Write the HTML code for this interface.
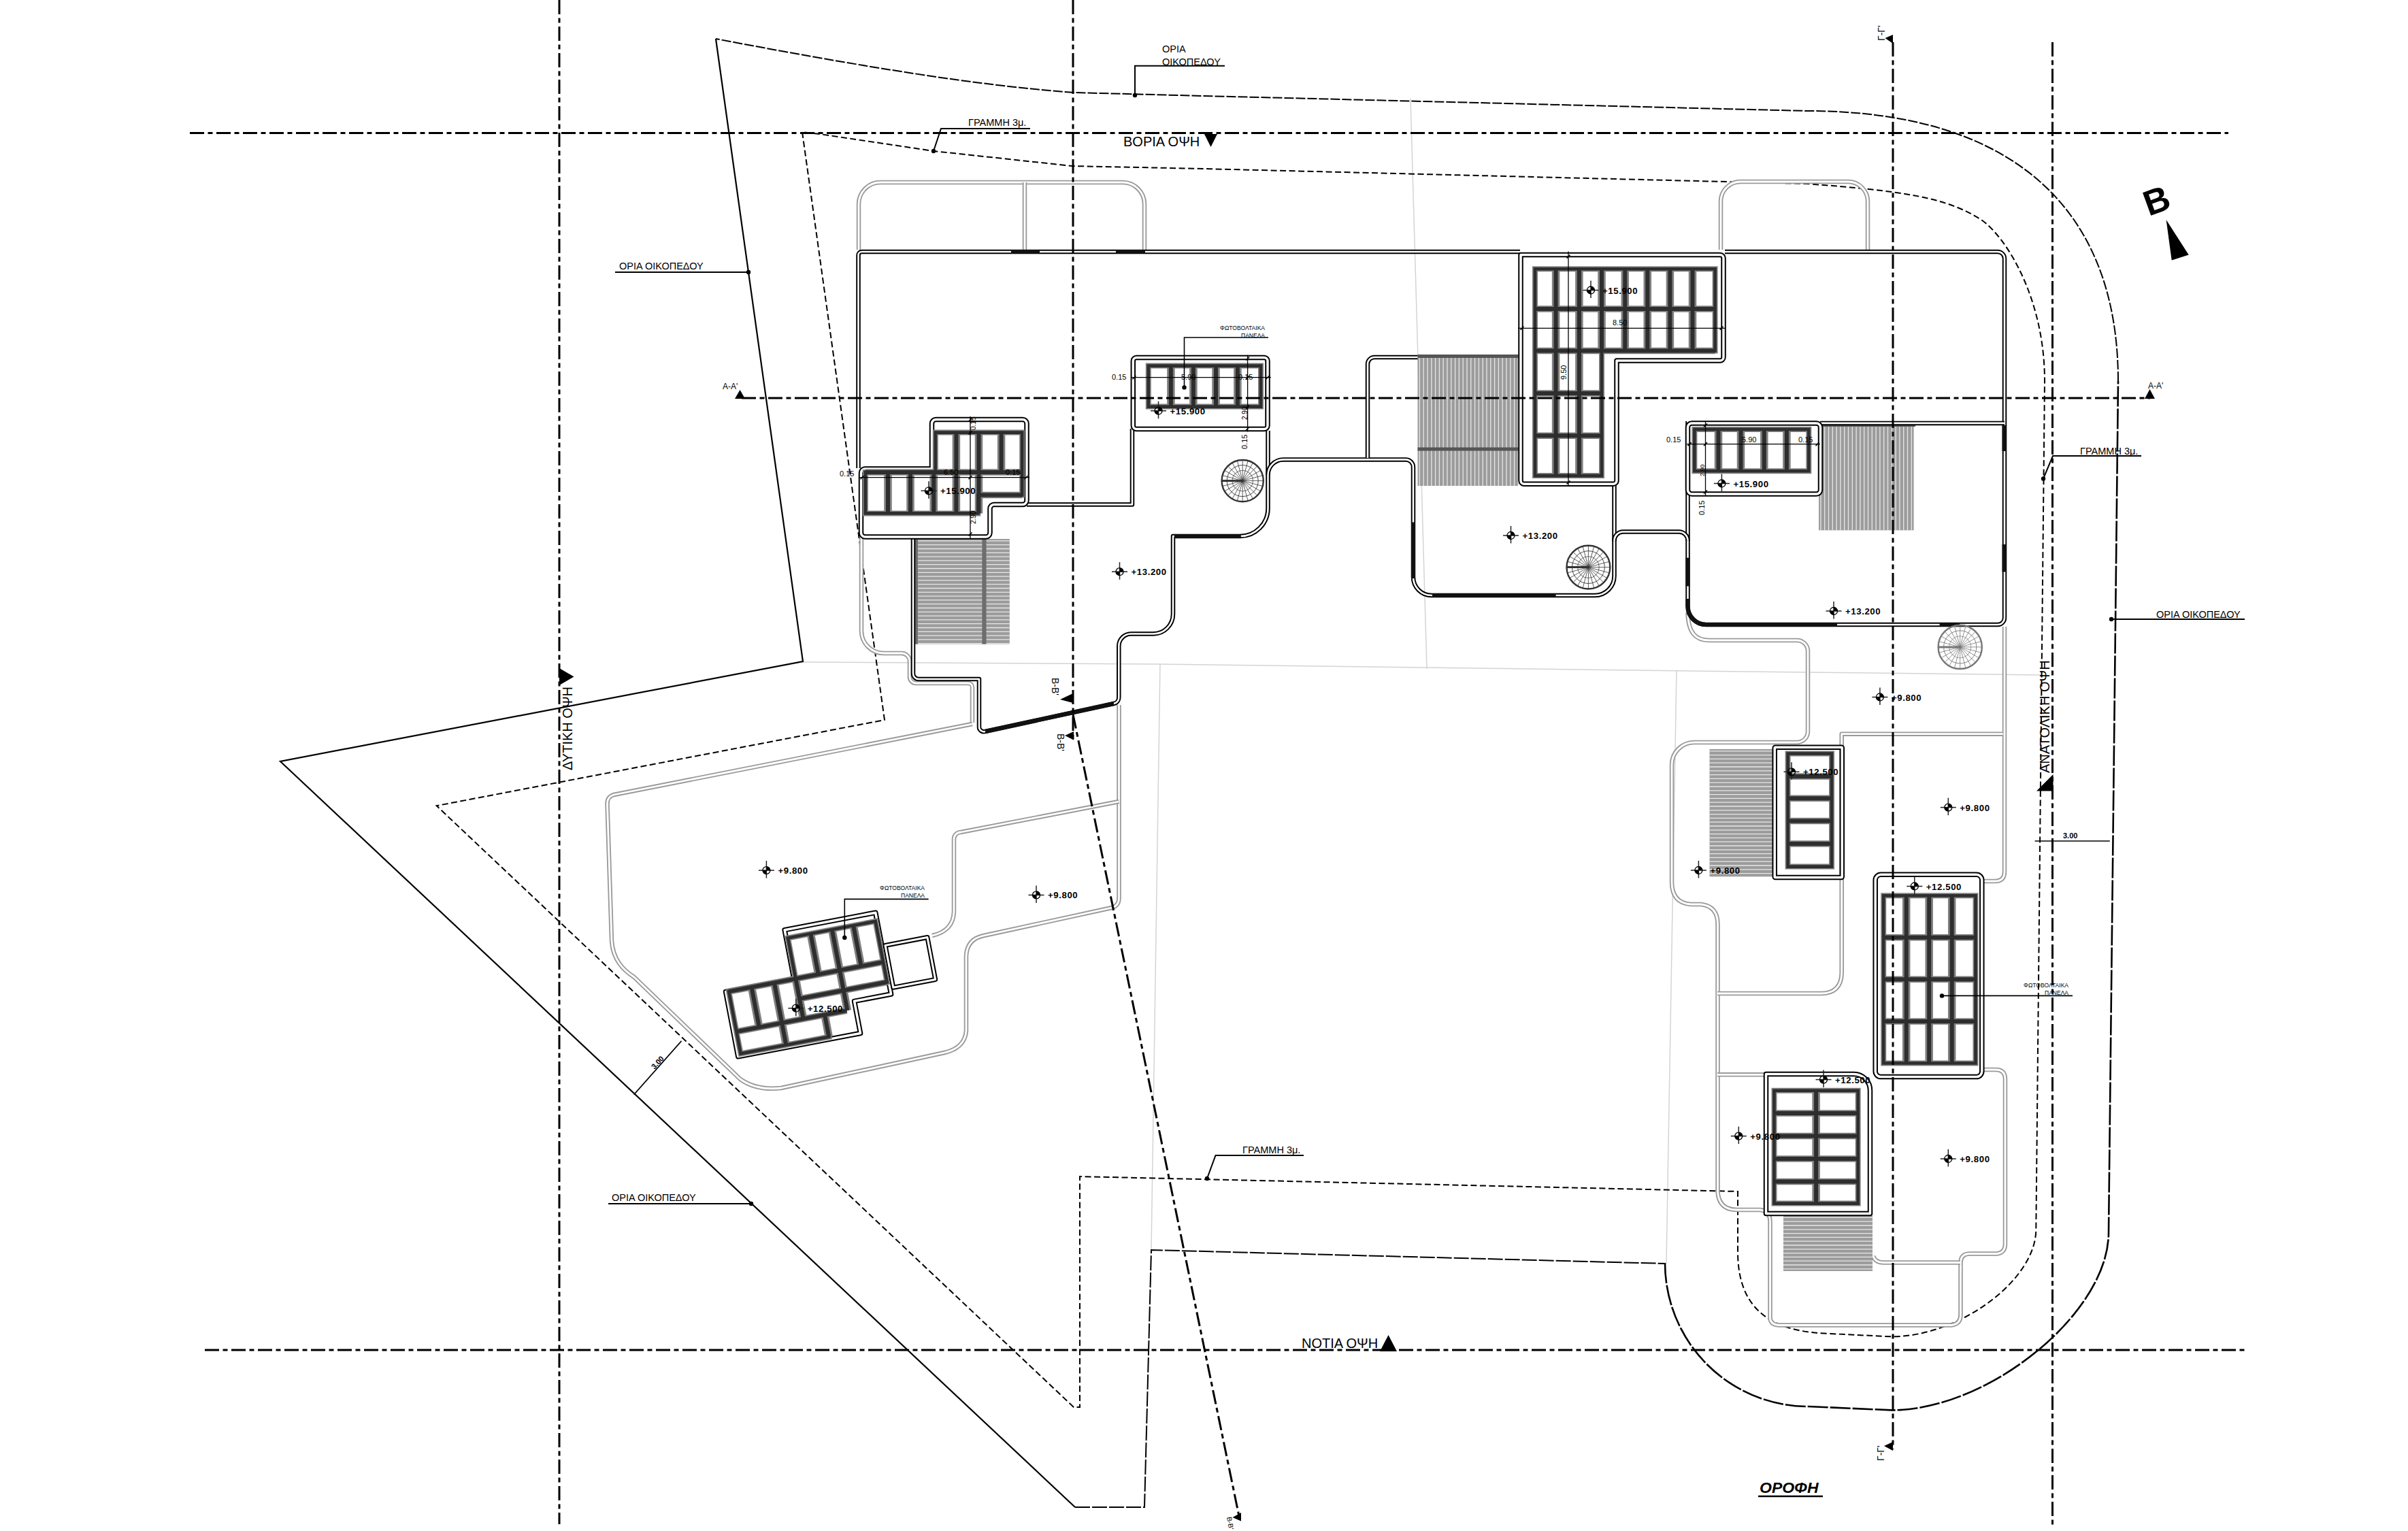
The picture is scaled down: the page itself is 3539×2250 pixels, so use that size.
<!DOCTYPE html><html><head><meta charset="utf-8"><style>html,body{margin:0;padding:0;background:#fff;width:3539px;height:2250px;overflow:hidden}svg{display:block;font-family:"Liberation Sans",sans-serif}</style></head><body><svg width="3539" height="2250" viewBox="0 0 3539 2250"><path d="M2073 145 L2097 983" stroke="#d4d4d4" stroke-width="1.5" fill="none"/>
<path d="M1180 973 L1700 976 L2400 985 L3000 992" stroke="#d4d4d4" stroke-width="1.5" fill="none"/>
<path d="M1705 976 L1692 1837" stroke="#d4d4d4" stroke-width="1.5" fill="none"/>
<path d="M2464 985 L2449 1857" stroke="#d4d4d4" stroke-width="1.5" fill="none"/>
<path d="M1052 57 L1180 972 L412 1119 L1580 2215" stroke="#000" stroke-width="2.2" fill="none" />
<path d="M1580 2215 H1682 L1692 1837 L2448 1857" stroke="#000" stroke-width="2" fill="none" stroke-dasharray="22 3"/>
<path d="M2447 1856 A211 211 0 0 0 2658 2067 L2780 2072.4 C2923.6 2072.4 3099 1929 3099 1811.7 L3113 560" stroke="#000" stroke-width="2.6" fill="none" stroke-dasharray="30 3"/>
<path d="M3113 560 C3113 302 2952.7 163 2655 163 L1770 141 L1578 136 C1470 128 1330 110 1052 57" stroke="#000" stroke-width="2" fill="none" stroke-dasharray="14 3"/>
<path d="M1179 194 L1300 1058 L641.6 1184.2 L1578 2068 L1587 2068 L1587 1729 L2554 1751 L2554 1840 C2554 1930 2610 1958 2690 1960 L2780 1964.4 C2880 1964.4 2992.3 1881 2992.3 1806.8 L3005 560 C3005 440 2950 350 2912 323 C2860 290 2800 281 2655 270 L1770 248 L1576 244 L1372 222 L1205 197 Z" stroke="#000" stroke-width="2" fill="none" stroke-dasharray="9 4.5"/>
<text x="910" y="396" font-size="14.5" font-weight="normal" font-style="normal" text-anchor="start" fill="#000" >ΟΡΙΑ ΟΙΚΟΠΕΔΟΥ</text>
<path d="M904 400 H1100" stroke="#000" stroke-width="2" fill="none" />
<circle cx="1100" cy="400" r="3.2" fill="#000"/>
<text x="1708" y="77" font-size="14.5" font-weight="normal" font-style="normal" text-anchor="start" fill="#000" >ΟΡΙΑ</text>
<text x="1708" y="96" font-size="14.5" font-weight="normal" font-style="normal" text-anchor="start" fill="#000" >ΟΙΚΟΠΕΔΟΥ</text>
<path d="M1668 140 V96.7 H1800" stroke="#000" stroke-width="2" fill="none" />
<circle cx="1668" cy="140" r="3.2" fill="#000"/>
<text x="1423" y="185" font-size="14.5" font-weight="normal" font-style="normal" text-anchor="start" fill="#000" >ΓΡΑΜΜΗ 3μ.</text>
<path d="M1372 222 L1383 189 H1514" stroke="#000" stroke-width="2" fill="none" />
<circle cx="1372" cy="222" r="3.2" fill="#000"/>
<text x="1651" y="215" font-size="20" font-weight="normal" font-style="normal" text-anchor="start" fill="#000" >ΒΟΡΙΑ ΟΨΗ</text>
<polygon points="1770,197 1789,197 1779.5,216" fill="#000"/>
<text x="3169" y="908" font-size="14.5" font-weight="normal" font-style="normal" text-anchor="start" fill="#000" >ΟΡΙΑ ΟΙΚΟΠΕΔΟΥ</text>
<path d="M3103 910 H3299" stroke="#000" stroke-width="2" fill="none" />
<circle cx="3103" cy="910" r="3.2" fill="#000"/>
<text x="3057" y="668" font-size="14.5" font-weight="normal" font-style="normal" text-anchor="start" fill="#000" >ΓΡΑΜΜΗ 3μ.</text>
<path d="M3003 703.5 L3017 670 H3147" stroke="#000" stroke-width="2" fill="none" />
<circle cx="3003" cy="703.5" r="3.2" fill="#000"/>
<text x="899" y="1765" font-size="14.5" font-weight="normal" font-style="normal" text-anchor="start" fill="#000" >ΟΡΙΑ ΟΙΚΟΠΕΔΟΥ</text>
<path d="M894 1769 H1104" stroke="#000" stroke-width="2" fill="none" />
<circle cx="1104" cy="1769" r="3.2" fill="#000"/>
<text x="1826" y="1695" font-size="14.5" font-weight="normal" font-style="normal" text-anchor="start" fill="#000" >ΓΡΑΜΜΗ 3μ.</text>
<path d="M1774 1732 L1786.5 1698 H1916" stroke="#000" stroke-width="2" fill="none" />
<circle cx="1774" cy="1732" r="3.2" fill="#000"/>
<text x="1913" y="1981" font-size="20" font-weight="normal" font-style="normal" text-anchor="start" fill="#000" >ΝΟΤΙΑ ΟΨΗ</text>
<polygon points="2040.5,1962 2053,1986 2028,1986" fill="#000"/>
<text x="0" y="0" font-size="20" transform="translate(841,1132) rotate(-90)">ΔΥΤΙΚΗ ΟΨΗ</text>
<polygon points="822,982 843.5,994.5 822,1007" fill="#000"/>
<text x="0" y="0" font-size="20" transform="translate(3012,1136) rotate(-90)">ΑΝΑΤΟΛΙΚΗ ΟΨΗ</text>
<polygon points="3017.5,1138 3017.5,1162.5 2993,1162.5" fill="#000"/>
<text x="2586" y="2194" font-size="23" font-weight="bold" font-style="italic" text-anchor="start" fill="#000" >ΟΡΟΦΗ</text>
<path d="M2584 2199 H2679" stroke="#000" stroke-width="2.5" fill="none" />
<text x="1062" y="572" font-size="12" font-weight="normal" font-style="normal" text-anchor="start" fill="#000" >A-A'</text>
<polygon points="1087.5,573 1095,586 1080,586" fill="#000"/>
<text x="3157" y="571" font-size="12" font-weight="normal" font-style="normal" text-anchor="start" fill="#000" >A-A'</text>
<polygon points="3159.5,572 3167,586 3152,586" fill="#000"/>
<polygon points="2770.5,56 2782,51 2782,64" fill="#000"/>
<text font-size="14" transform="translate(2770,60) rotate(-90)">Γ-Γ'</text>
<polygon points="2769,2125 2782,2119 2782,2132" fill="#000"/>
<text font-size="14" transform="translate(2769,2147) rotate(-90)">Γ-Γ'</text>
<polygon points="1558,1028 1577,1019 1577,1033" fill="#000"/>
<text font-size="14" transform="translate(1546,996) rotate(90)">B-B'</text>
<polygon points="1565,1081 1578,1075 1578,1087.5" fill="#000"/>
<text font-size="14" transform="translate(1554,1078) rotate(90)">B-B'</text>
<polygon points="1811.5,2230 1824,2223 1824,2235.5" fill="#000"/>
<text font-size="10" transform="translate(1803,2230) rotate(80)">B-B'</text>
<text font-size="52" font-weight="bold" transform="translate(3158,318) rotate(-20)">B</text>
<polygon points="3183.6,323 3216.7,374.5 3191.7,382.5" fill="#000"/>
<path d="M2990.6 1236 H3100.8" stroke="#000" stroke-width="1.6" fill="none" />
<text x="3032" y="1232" font-size="11" font-weight="bold" font-style="normal" text-anchor="start" fill="#000" >3.00</text>
<path d="M931.7 1608.6 L1001.5 1529.9" stroke="#000" stroke-width="1.6" fill="none" />
<text font-size="11" font-weight="bold" transform="translate(962,1572) rotate(-48)">3.00</text>
<path d="M1262 367 V300 A32 32 0 0 1 1294 268 H1650 A32 32 0 0 1 1682 300 V367" stroke="#9a9a9a" stroke-width="6.5" fill="none" stroke-linejoin="round"/>
<path d="M1262 367 V300 A32 32 0 0 1 1294 268 H1650 A32 32 0 0 1 1682 300 V367" stroke="#fff" stroke-width="2.8" fill="none" stroke-linejoin="round"/>
<path d="M1506 268 V367" stroke="#9a9a9a" stroke-width="6.5" fill="none" stroke-linejoin="round"/>
<path d="M1506 268 V367" stroke="#fff" stroke-width="2.8" fill="none" stroke-linejoin="round"/>
<path d="M2529 367 V296 A29 29 0 0 1 2558 267 H2716 A29 29 0 0 1 2745 296 V367" stroke="#9a9a9a" stroke-width="6.5" fill="none" stroke-linejoin="round"/>
<path d="M2529 367 V296 A29 29 0 0 1 2558 267 H2716 A29 29 0 0 1 2745 296 V367" stroke="#fff" stroke-width="2.8" fill="none" stroke-linejoin="round"/>
<path d="M1266 791 V927 A33 33 0 0 0 1299 960 H1325 A12 12 0 0 1 1337 972 V995 A9 9 0 0 0 1346 1004 H1423 A6 6 0 0 1 1429 1010 V1062" stroke="#9a9a9a" stroke-width="6.5" fill="none" stroke-linejoin="round"/>
<path d="M1266 791 V927 A33 33 0 0 0 1299 960 H1325 A12 12 0 0 1 1337 972 V995 A9 9 0 0 0 1346 1004 H1423 A6 6 0 0 1 1429 1010 V1062" stroke="#fff" stroke-width="2.8" fill="none" stroke-linejoin="round"/>
<path d="M1429 1064 L902 1168 Q892 1171 892.5 1182 L899 1383 C901 1410 915 1425 932 1436 L1088 1586 Q1112 1603 1148 1599 L1388 1547 Q1418 1540 1420 1515 V1405 Q1421 1380 1446 1375 L1634 1334 Q1644.5 1331 1644.5 1320 V1036" stroke="#9a9a9a" stroke-width="6.5" fill="none" stroke-linejoin="round"/>
<path d="M1429 1064 L902 1168 Q892 1171 892.5 1182 L899 1383 C901 1410 915 1425 932 1436 L1088 1586 Q1112 1603 1148 1599 L1388 1547 Q1418 1540 1420 1515 V1405 Q1421 1380 1446 1375 L1634 1334 Q1644.5 1331 1644.5 1320 V1036" stroke="#fff" stroke-width="2.8" fill="none" stroke-linejoin="round"/>
<path d="M1644.5 1178 L1412 1223 A10 10 0 0 0 1402 1233 V1340 Q1401 1368 1370 1375" stroke="#9a9a9a" stroke-width="6.5" fill="none" stroke-linejoin="round"/>
<path d="M1644.5 1178 L1412 1223 A10 10 0 0 0 1402 1233 V1340 Q1401 1368 1370 1375" stroke="#fff" stroke-width="2.8" fill="none" stroke-linejoin="round"/>
<path d="M2480.5 900 C2481 930 2492 941 2512 941 H2641 A16 16 0 0 1 2657 956 V1075 A16 16 0 0 1 2641 1091 H2490 A33 33 0 0 0 2457 1124 V1296 Q2457 1327 2485 1329 H2500 Q2524.5 1332 2524.5 1358 V1751 Q2526 1778 2553 1778 H2587 Q2601.5 1780 2601.5 1795 V1938 Q2603 1947.5 2616 1947.5 H2868 Q2881.5 1946 2881.5 1932 V1855 Q2882 1842.5 2895 1842.5 H2935 Q2947 1841 2947 1828 V1586 Q2947 1572 2933 1572 H2914" stroke="#9a9a9a" stroke-width="6.5" fill="none" stroke-linejoin="round"/>
<path d="M2480.5 900 C2481 930 2492 941 2512 941 H2641 A16 16 0 0 1 2657 956 V1075 A16 16 0 0 1 2641 1091 H2490 A33 33 0 0 0 2457 1124 V1296 Q2457 1327 2485 1329 H2500 Q2524.5 1332 2524.5 1358 V1751 Q2526 1778 2553 1778 H2587 Q2601.5 1780 2601.5 1795 V1938 Q2603 1947.5 2616 1947.5 H2868 Q2881.5 1946 2881.5 1932 V1855 Q2882 1842.5 2895 1842.5 H2935 Q2947 1841 2947 1828 V1586 Q2947 1572 2933 1572 H2914" stroke="#fff" stroke-width="2.8" fill="none" stroke-linejoin="round"/>
<path d="M2946 921 V1281 Q2946 1295 2932 1295 H2914" stroke="#9a9a9a" stroke-width="6.5" fill="none" stroke-linejoin="round"/>
<path d="M2946 921 V1281 Q2946 1295 2932 1295 H2914" stroke="#fff" stroke-width="2.8" fill="none" stroke-linejoin="round"/>
<path d="M2943.7 1078.7 H2706.7 V1430 Q2706 1460 2676 1460 H2524" stroke="#9a9a9a" stroke-width="6.5" fill="none" stroke-linejoin="round"/>
<path d="M2943.7 1078.7 H2706.7 V1430 Q2706 1460 2676 1460 H2524" stroke="#fff" stroke-width="2.8" fill="none" stroke-linejoin="round"/>
<path d="M2524 1579.3 H2594" stroke="#9a9a9a" stroke-width="6.5" fill="none" stroke-linejoin="round"/>
<path d="M2524 1579.3 H2594" stroke="#fff" stroke-width="2.8" fill="none" stroke-linejoin="round"/>
<path d="M2753 1846 Q2756 1855.5 2768 1855.5 H2881" stroke="#9a9a9a" stroke-width="6.5" fill="none" stroke-linejoin="round"/>
<path d="M2753 1846 Q2756 1855.5 2768 1855.5 H2881" stroke="#fff" stroke-width="2.8" fill="none" stroke-linejoin="round"/>
<rect x="1340.5" y="792" width="143.3" height="154.6" fill="#9c9c9c"/>
<path d="M1340.5 794.9H1483.8M1340.5 800.7H1483.8M1340.5 806.5H1483.8M1340.5 812.3H1483.8M1340.5 818.1H1483.8M1340.5 823.9H1483.8M1340.5 829.7H1483.8M1340.5 835.5H1483.8M1340.5 841.3H1483.8M1340.5 847.1H1483.8M1340.5 852.9H1483.8M1340.5 858.7H1483.8M1340.5 864.5H1483.8M1340.5 870.3H1483.8M1340.5 876.1H1483.8M1340.5 881.9H1483.8M1340.5 887.7H1483.8M1340.5 893.5H1483.8M1340.5 899.3H1483.8M1340.5 905.1H1483.8M1340.5 910.9H1483.8M1340.5 916.7H1483.8M1340.5 922.5H1483.8M1340.5 928.3H1483.8M1340.5 934.1H1483.8M1340.5 939.9H1483.8M1340.5 945.7H1483.8" stroke="#e6e6e6" stroke-width="1.3" fill="none"/>
<rect x="1343" y="792" width="6" height="154.6" fill="#6e6e6e"/>
<rect x="1443.4" y="792" width="6.1" height="154.6" fill="#6d6d6d"/>
<rect x="2083.5" y="523" width="148" height="191" fill="#9c9c9c"/>
<path d="M2086.4 523V714M2092.2 523V714M2098.0 523V714M2103.8 523V714M2109.6 523V714M2115.4 523V714M2121.2 523V714M2127.0 523V714M2132.8 523V714M2138.6 523V714M2144.4 523V714M2150.2 523V714M2156.0 523V714M2161.8 523V714M2167.6 523V714M2173.4 523V714M2179.2 523V714M2185.0 523V714M2190.8 523V714M2196.6 523V714M2202.4 523V714M2208.2 523V714M2214.0 523V714M2219.8 523V714M2225.6 523V714M2231.4 523V714" stroke="#e6e6e6" stroke-width="1.3" fill="none"/>
<rect x="2083.5" y="657.5" width="148" height="5" fill="#555"/>
<rect x="2083.5" y="521" width="148" height="5" fill="#555"/>
<rect x="2673" y="626" width="139.6" height="153.3" fill="#9c9c9c"/>
<path d="M2675.9 626V779.3M2681.7 626V779.3M2687.5 626V779.3M2693.3 626V779.3M2699.1 626V779.3M2704.9 626V779.3M2710.7 626V779.3M2716.5 626V779.3M2722.3 626V779.3M2728.1 626V779.3M2733.9 626V779.3M2739.7 626V779.3M2745.5 626V779.3M2751.3 626V779.3M2757.1 626V779.3M2762.9 626V779.3M2768.7 626V779.3M2774.5 626V779.3M2780.3 626V779.3M2786.1 626V779.3M2791.9 626V779.3M2797.7 626V779.3M2803.5 626V779.3M2809.3 626V779.3" stroke="#e6e6e6" stroke-width="1.3" fill="none"/>
<rect x="2673" y="622" width="142" height="5" fill="#555"/>
<rect x="2512.5" y="1100.9" width="92.5" height="187.4" fill="#9c9c9c"/>
<path d="M2512.5 1103.8H2605.0M2512.5 1109.6H2605.0M2512.5 1115.4H2605.0M2512.5 1121.2H2605.0M2512.5 1127.0H2605.0M2512.5 1132.8H2605.0M2512.5 1138.6H2605.0M2512.5 1144.4H2605.0M2512.5 1150.2H2605.0M2512.5 1156.0H2605.0M2512.5 1161.8H2605.0M2512.5 1167.6H2605.0M2512.5 1173.4H2605.0M2512.5 1179.2H2605.0M2512.5 1185.0H2605.0M2512.5 1190.8H2605.0M2512.5 1196.6H2605.0M2512.5 1202.4H2605.0M2512.5 1208.2H2605.0M2512.5 1214.0H2605.0M2512.5 1219.8H2605.0M2512.5 1225.6H2605.0M2512.5 1231.4H2605.0M2512.5 1237.2H2605.0M2512.5 1243.0H2605.0M2512.5 1248.8H2605.0M2512.5 1254.6H2605.0M2512.5 1260.4H2605.0M2512.5 1266.2H2605.0M2512.5 1272.0H2605.0M2512.5 1277.8H2605.0M2512.5 1283.6H2605.0" stroke="#e6e6e6" stroke-width="1.3" fill="none"/>
<rect x="2621" y="1786.5" width="131" height="81.5" fill="#9c9c9c"/>
<path d="M2621 1789.4H2752M2621 1795.2H2752M2621 1801.0H2752M2621 1806.8H2752M2621 1812.6H2752M2621 1818.4H2752M2621 1824.2H2752M2621 1830.0H2752M2621 1835.8H2752M2621 1841.6H2752M2621 1847.4H2752M2621 1853.2H2752M2621 1859.0H2752M2621 1864.8H2752" stroke="#e6e6e6" stroke-width="1.3" fill="none"/>
<path d="M1261.5 688 V375 A5 5 0 0 1 1266.5 370 H2234 M2535 370 H2936 A10 10 0 0 1 2946 380 V908 A10 10 0 0 1 2936 918 H2507.5 A27 27 0 0 1 2480.5 891 V619" stroke="#000" stroke-width="6.5" fill="none" stroke-linejoin="round"/>
<path d="M1261.5 688 V375 A5 5 0 0 1 1266.5 370 H2234 M2535 370 H2936 A10 10 0 0 1 2946 380 V908 A10 10 0 0 1 2936 918 H2507.5 A27 27 0 0 1 2480.5 891 V619" stroke="#fff" stroke-width="2.6" fill="none" stroke-linejoin="round"/>
<path d="M1509 741.5 H1664 V630" stroke="#000" stroke-width="6.5" fill="none" stroke-linejoin="round"/>
<path d="M1509 741.5 H1664 V630" stroke="#fff" stroke-width="2.6" fill="none" stroke-linejoin="round"/>
<path d="M1863.5 633 V747 A41 41 0 0 1 1822.5 788 H1724 V902.5 A29 29 0 0 1 1695 931.5 H1662 A18 18 0 0 0 1644.3 949.5 V1025 A9 9 0 0 1 1637 1034 L1448 1075 A7 7 0 0 1 1439 1068 V998 H1350 A8 8 0 0 1 1342 990 V789" stroke="#000" stroke-width="6.5" fill="none" stroke-linejoin="round"/>
<path d="M1863.5 633 V747 A41 41 0 0 1 1822.5 788 H1724 V902.5 A29 29 0 0 1 1695 931.5 H1662 A18 18 0 0 0 1644.3 949.5 V1025 A9 9 0 0 1 1637 1034 L1448 1075 A7 7 0 0 1 1439 1068 V998 H1350 A8 8 0 0 1 1342 990 V789" stroke="#fff" stroke-width="2.6" fill="none" stroke-linejoin="round"/>
<path d="M1863.5 698 A22.6 22.6 0 0 1 1886 675.4 H2066 A11 11 0 0 1 2077 686.4 V848 A27 27 0 0 0 2104 875 H2344 A28.5 28.5 0 0 0 2372.5 846.5 V712" stroke="#000" stroke-width="6.5" fill="none" stroke-linejoin="round"/>
<path d="M1863.5 698 A22.6 22.6 0 0 1 1886 675.4 H2066 A11 11 0 0 1 2077 686.4 V848 A27 27 0 0 0 2104 875 H2344 A28.5 28.5 0 0 0 2372.5 846.5 V712" stroke="#fff" stroke-width="2.6" fill="none" stroke-linejoin="round"/>
<path d="M2675 621.9 H2946" stroke="#000" stroke-width="6.5" fill="none" stroke-linejoin="round"/>
<path d="M2675 621.9 H2946" stroke="#fff" stroke-width="2.6" fill="none" stroke-linejoin="round"/>
<path d="M2010 673 V535 A10 10 0 0 1 2020 525 H2083.5" stroke="#000" stroke-width="6.5" fill="none" stroke-linejoin="round"/>
<path d="M2010 673 V535 A10 10 0 0 1 2020 525 H2083.5" stroke="#fff" stroke-width="2.6" fill="none" stroke-linejoin="round"/>
<path d="M2372.5 795 A13 13 0 0 1 2385.5 781.5 H2467.5 A13 13 0 0 1 2480.5 794.5" stroke="#000" stroke-width="6.5" fill="none" stroke-linejoin="round"/>
<path d="M2372.5 795 A13 13 0 0 1 2385.5 781.5 H2467.5 A13 13 0 0 1 2480.5 794.5" stroke="#fff" stroke-width="2.6" fill="none" stroke-linejoin="round"/>
<path d="M1486 370 H1528 M1640 370 H1683 M2077 768 V850 M1725.8 788 H1823.8 M1448 1075 L1637 1034 M2105 875 H2286.6 M2077 767.4 V809 M2945.5 625 V663 M2945.5 800 V840.5 M2480.5 819.7 V861.4 M2480.5 880 V891 A27 27 0 0 0 2507.5 918 H2700 M2850.6 918 H2880" stroke="#111" stroke-width="6" fill="none"/>
<path d="M1271.5 689 H1369.5 V622.5 A6 6 0 0 1 1375.5 616.5 H1503 A6 6 0 0 1 1509 622.5 V735.5 A6 6 0 0 1 1503 741.5 H1461 A6 6 0 0 0 1455 747.5 V783 A6 6 0 0 1 1449 789 H1271.5 A6 6 0 0 1 1265.5 783 V695 A6 6 0 0 1 1271.5 689 Z" stroke="#000" stroke-width="7.5" fill="none" stroke-linejoin="round"/>
<path d="M1271.5 689 H1369.5 V622.5 A6 6 0 0 1 1375.5 616.5 H1503 A6 6 0 0 1 1509 622.5 V735.5 A6 6 0 0 1 1503 741.5 H1461 A6 6 0 0 0 1455 747.5 V783 A6 6 0 0 1 1449 789 H1271.5 A6 6 0 0 1 1265.5 783 V695 A6 6 0 0 1 1271.5 689 Z" stroke="#fff" stroke-width="3.5" fill="none" stroke-linejoin="round"/>
<path d="M1405.4 635.6V754.4M1438.5 635.6V754.4M1471.6 635.6V694M1305 694V754.4M1338 694V754.4M1372.3 694V754.4" stroke="#808080" stroke-width="11.5" fill="none"/>
<path d="M1374.8 694H1502.2M1271.9 694H1374.8M1437.3 727.5H1502.2" stroke="#808080" stroke-width="9.5" fill="none"/>
<path d="M1374.8 694V635.6H1502.2V727.5M1437.3 727.5V754.4H1271.9V694" stroke="#808080" stroke-width="8" fill="none" stroke-linecap="square"/>
<path d="M1405.4 635.6V754.4M1438.5 635.6V754.4M1471.6 635.6V694M1305 694V754.4M1338 694V754.4M1372.3 694V754.4" stroke="#2e2e2e" stroke-width="6" fill="none"/>
<path d="M1374.8 694H1502.2M1271.9 694H1374.8M1437.3 727.5H1502.2" stroke="#2e2e2e" stroke-width="6" fill="none"/>
<path d="M1374.8 694V635.6H1502.2V727.5M1437.3 727.5V754.4H1271.9V694" stroke="#2e2e2e" stroke-width="4.6" fill="none" stroke-linecap="square"/>
<path d="M1670.3 525.4H1858A5 5 0 0 1 1863 530.4V625.6A5 5 0 0 1 1858 630.6H1670.3A5 5 0 0 1 1665.3 625.6V530.4A5 5 0 0 1 1670.3 525.4Z" stroke="#000" stroke-width="7.5" fill="none" stroke-linejoin="round"/>
<path d="M1670.3 525.4H1858A5 5 0 0 1 1863 530.4V625.6A5 5 0 0 1 1858 630.6H1670.3A5 5 0 0 1 1665.3 625.6V530.4A5 5 0 0 1 1670.3 525.4Z" stroke="#fff" stroke-width="3.5" fill="none" stroke-linejoin="round"/>
<path d="M1720.9 537.6V597.6M1753.9 537.6V597.6M1787 537.6V597.6M1818.9 537.6V597.6" stroke="#808080" stroke-width="11.5" fill="none"/>
<path d="M1687.8 537.6H1853V597.6H1687.8Z" stroke="#808080" stroke-width="8" fill="none" stroke-linecap="square"/>
<path d="M1720.9 537.6V597.6M1753.9 537.6V597.6M1787 537.6V597.6M1818.9 537.6V597.6" stroke="#2e2e2e" stroke-width="6" fill="none"/>
<path d="M1687.8 537.6H1853V597.6H1687.8Z" stroke="#2e2e2e" stroke-width="4.6" fill="none" stroke-linecap="square"/>
<path d="M2235 374.5 H2528 A5 5 0 0 1 2533 379.5 V525 A5 5 0 0 1 2528 530 H2376 V706 A5 5 0 0 1 2371 711.3 H2240 A5 5 0 0 1 2235 706.3 Z" stroke="#000" stroke-width="7.5" fill="none" stroke-linejoin="round"/>
<path d="M2235 374.5 H2528 A5 5 0 0 1 2533 379.5 V525 A5 5 0 0 1 2528 530 H2376 V706 A5 5 0 0 1 2371 711.3 H2240 A5 5 0 0 1 2235 706.3 Z" stroke="#fff" stroke-width="3.5" fill="none" stroke-linejoin="round"/>
<path d="M2354 395.3V515.4M2286.6 395.3V699.1M2320.9 395.3V699.1M2388.3 395.3V515.4M2421.3 395.3V515.4M2454.4 395.3V515.4M2487.5 395.3V515.4" stroke="#808080" stroke-width="11.5" fill="none"/>
<path d="M2256 454.1H2520.6M2354 515.4H2520.6M2256 515.4H2354M2256 577.9H2354M2256 640.3H2354" stroke="#808080" stroke-width="9.5" fill="none"/>
<path d="M2256 699.1V395.3H2520.6V515.4H2354V699.1Z" stroke="#808080" stroke-width="8" fill="none" stroke-linecap="square"/>
<path d="M2354 395.3V515.4M2286.6 395.3V699.1M2320.9 395.3V699.1M2388.3 395.3V515.4M2421.3 395.3V515.4M2454.4 395.3V515.4M2487.5 395.3V515.4" stroke="#2e2e2e" stroke-width="6" fill="none"/>
<path d="M2256 454.1H2520.6M2354 515.4H2520.6M2256 515.4H2354M2256 577.9H2354M2256 640.3H2354" stroke="#2e2e2e" stroke-width="6" fill="none"/>
<path d="M2256 699.1V395.3H2520.6V515.4H2354V699.1Z" stroke="#2e2e2e" stroke-width="4.6" fill="none" stroke-linecap="square"/>
<path d="M2486.5 621.9H2669.5A6 6 0 0 1 2675.5 627.9V720A6 6 0 0 1 2669.5 726H2486.5A6 6 0 0 1 2480.5 720V627.9A6 6 0 0 1 2486.5 621.9Z" stroke="#000" stroke-width="7.5" fill="none" stroke-linejoin="round"/>
<path d="M2486.5 621.9H2669.5A6 6 0 0 1 2675.5 627.9V720A6 6 0 0 1 2669.5 726H2486.5A6 6 0 0 1 2480.5 720V627.9A6 6 0 0 1 2486.5 621.9Z" stroke="#fff" stroke-width="3.5" fill="none" stroke-linejoin="round"/>
<path d="M2525.5 631V692.3M2558.5 631V692.3M2592.8 631V692.3M2625.9 631V692.3" stroke="#808080" stroke-width="11.5" fill="none"/>
<path d="M2490.4 631H2658.3V692.3H2490.4Z" stroke="#808080" stroke-width="8" fill="none" stroke-linecap="square"/>
<path d="M2525.5 631V692.3M2558.5 631V692.3M2592.8 631V692.3M2625.9 631V692.3" stroke="#2e2e2e" stroke-width="6" fill="none"/>
<path d="M2490.4 631H2658.3V692.3H2490.4Z" stroke="#2e2e2e" stroke-width="4.6" fill="none" stroke-linecap="square"/>
<path d="M2609.2 1098.2H2706.3A1 1 0 0 1 2707.3 1099.2V1288.6A1 1 0 0 1 2706.3 1289.6H2609.2A1 1 0 0 1 2608.2 1288.6V1099.2A1 1 0 0 1 2609.2 1098.2Z" stroke="#000" stroke-width="7.5" fill="none" stroke-linejoin="round"/>
<path d="M2609.2 1098.2H2706.3A1 1 0 0 1 2707.3 1099.2V1288.6A1 1 0 0 1 2706.3 1289.6H2609.2A1 1 0 0 1 2608.2 1288.6V1099.2A1 1 0 0 1 2609.2 1098.2Z" stroke="#fff" stroke-width="3.5" fill="none" stroke-linejoin="round"/>
<path d="M2627.6 1141H2692M2627.6 1173.2H2692M2627.6 1206.6H2692M2627.6 1240H2692" stroke="#808080" stroke-width="9.5" fill="none"/>
<path d="M2627.6 1107.5H2692V1273.6H2627.6Z" stroke="#808080" stroke-width="8" fill="none" stroke-linecap="square"/>
<path d="M2627.6 1141H2692M2627.6 1173.2H2692M2627.6 1206.6H2692M2627.6 1240H2692" stroke="#2e2e2e" stroke-width="6" fill="none"/>
<path d="M2627.6 1107.5H2692V1273.6H2627.6Z" stroke="#2e2e2e" stroke-width="4.6" fill="none" stroke-linecap="square"/>
<path d="M2764.2 1285.3H2904.8A8 8 0 0 1 2912.8 1293.3V1574.6A8 8 0 0 1 2904.8 1582.6H2764.2A8 8 0 0 1 2756.2 1574.6V1293.3A8 8 0 0 1 2764.2 1285.3Z" stroke="#000" stroke-width="7.5" fill="none" stroke-linejoin="round"/>
<path d="M2764.2 1285.3H2904.8A8 8 0 0 1 2912.8 1293.3V1574.6A8 8 0 0 1 2904.8 1582.6H2764.2A8 8 0 0 1 2756.2 1574.6V1293.3A8 8 0 0 1 2764.2 1285.3Z" stroke="#fff" stroke-width="3.5" fill="none" stroke-linejoin="round"/>
<path d="M2801.7 1316.2V1562.5M2835.2 1316.2V1562.5M2868.7 1316.2V1562.5" stroke="#808080" stroke-width="11.5" fill="none"/>
<path d="M2768.2 1377.7H2903.5M2768.2 1439.3H2903.5M2768.2 1501H2903.5" stroke="#808080" stroke-width="9.5" fill="none"/>
<path d="M2768.2 1316.2H2903.5V1562.5H2768.2Z" stroke="#808080" stroke-width="8" fill="none" stroke-linecap="square"/>
<path d="M2801.7 1316.2V1562.5M2835.2 1316.2V1562.5M2868.7 1316.2V1562.5" stroke="#2e2e2e" stroke-width="6" fill="none"/>
<path d="M2768.2 1377.7H2903.5M2768.2 1439.3H2903.5M2768.2 1501H2903.5" stroke="#2e2e2e" stroke-width="6" fill="none"/>
<path d="M2768.2 1316.2H2903.5V1562.5H2768.2Z" stroke="#2e2e2e" stroke-width="4.6" fill="none" stroke-linecap="square"/>
<path d="M2595.5 1578.5 H2724 A24 24 0 0 1 2748.5 1603 V1783.5 H2595.5 Z" stroke="#000" stroke-width="7.5" fill="none" stroke-linejoin="round"/>
<path d="M2595.5 1578.5 H2724 A24 24 0 0 1 2748.5 1603 V1783.5 H2595.5 Z" stroke="#fff" stroke-width="3.5" fill="none" stroke-linejoin="round"/>
<path d="M2669.1 1602.7V1768.6" stroke="#808080" stroke-width="11.5" fill="none"/>
<path d="M2607.5 1636H2730.7M2607.5 1669.5H2730.7M2607.5 1703H2730.7M2607.5 1736.5H2730.7" stroke="#808080" stroke-width="9.5" fill="none"/>
<path d="M2607.5 1602.7H2730.7V1768.6H2607.5Z" stroke="#808080" stroke-width="8" fill="none" stroke-linecap="square"/>
<path d="M2669.1 1602.7V1768.6" stroke="#2e2e2e" stroke-width="6" fill="none"/>
<path d="M2607.5 1636H2730.7M2607.5 1669.5H2730.7M2607.5 1703H2730.7M2607.5 1736.5H2730.7" stroke="#2e2e2e" stroke-width="6" fill="none"/>
<path d="M2607.5 1602.7H2730.7V1768.6H2607.5Z" stroke="#2e2e2e" stroke-width="4.6" fill="none" stroke-linecap="square"/>
<g transform="translate(1063.7,1455.5) rotate(-10.8)">
<path d="M2.5 2.5 H104.5 V-70.5 H240.5 V51.5 H185.5 V99.5 H2.5 Z" stroke="#000" stroke-width="7.5" fill="none" stroke-linejoin="round"/>
<path d="M2.5 2.5 H104.5 V-70.5 H240.5 V51.5 H185.5 V99.5 H2.5 Z" stroke="#fff" stroke-width="3.5" fill="none" stroke-linejoin="round"/>
<path d="M245.5 -20.5 H308.5 V42.5 H245.5 Z" stroke="#000" stroke-width="7" fill="none" stroke-linejoin="round"/>
<path d="M245.5 -20.5 H308.5 V42.5 H245.5 Z" stroke="#fff" stroke-width="3" fill="none" stroke-linejoin="round"/>
<path d="M41 3V63M75 3V96M141 -58V3M139 63V96M173 -58V63M205 -58V3M107 3V63" stroke="#808080" stroke-width="11.5" fill="none"/>
<path d="M107 3H238M107 33H238M7 63H172M7 3H107" stroke="#808080" stroke-width="9.5" fill="none"/>
<path d="M7 3V96H139M107 3V-58H238V33" stroke="#808080" stroke-width="8" fill="none" stroke-linecap="square"/>
<path d="M41 3V63M75 3V96M141 -58V3M139 63V96M173 -58V63M205 -58V3M107 3V63" stroke="#2e2e2e" stroke-width="6" fill="none"/>
<path d="M107 3H238M107 33H238M7 63H172M7 3H107" stroke="#2e2e2e" stroke-width="6" fill="none"/>
<path d="M7 3V96H139M107 3V-58H238V33" stroke="#2e2e2e" stroke-width="4.6" fill="none" stroke-linecap="square"/>
</g>
<g stroke="#333" fill="none"><circle cx="1826.2" cy="706.6" r="30.6" stroke-width="2.4"/><circle cx="1826.2" cy="706.6" r="23.0" stroke-width="0.9"/><circle cx="1826.2" cy="706.6" r="15.3" stroke-width="0.7"/><line x1="1826.2" y1="706.6" x2="1856.8" y2="706.6" stroke-width="0.8"/><line x1="1826.2" y1="706.6" x2="1855.8" y2="714.5" stroke-width="0.8"/><line x1="1826.2" y1="706.6" x2="1852.7" y2="721.9" stroke-width="0.8"/><line x1="1826.2" y1="706.6" x2="1847.8" y2="728.2" stroke-width="0.8"/><line x1="1826.2" y1="706.6" x2="1841.5" y2="733.1" stroke-width="0.8"/><line x1="1826.2" y1="706.6" x2="1834.1" y2="736.2" stroke-width="0.8"/><line x1="1826.2" y1="706.6" x2="1826.2" y2="737.2" stroke-width="0.8"/><line x1="1826.2" y1="706.6" x2="1818.3" y2="736.2" stroke-width="0.8"/><line x1="1826.2" y1="706.6" x2="1810.9" y2="733.1" stroke-width="0.8"/><line x1="1826.2" y1="706.6" x2="1804.6" y2="728.2" stroke-width="0.8"/><line x1="1826.2" y1="706.6" x2="1799.7" y2="721.9" stroke-width="0.8"/><line x1="1826.2" y1="706.6" x2="1796.6" y2="714.5" stroke-width="0.8"/><line x1="1826.2" y1="706.6" x2="1795.6" y2="706.6" stroke-width="0.8"/><line x1="1826.2" y1="706.6" x2="1796.6" y2="698.7" stroke-width="0.8"/><line x1="1826.2" y1="706.6" x2="1799.7" y2="691.3" stroke-width="0.8"/><line x1="1826.2" y1="706.6" x2="1804.6" y2="685.0" stroke-width="0.8"/><line x1="1826.2" y1="706.6" x2="1810.9" y2="680.1" stroke-width="0.8"/><line x1="1826.2" y1="706.6" x2="1818.3" y2="677.0" stroke-width="0.8"/><line x1="1826.2" y1="706.6" x2="1826.2" y2="676.0" stroke-width="0.8"/><line x1="1826.2" y1="706.6" x2="1834.1" y2="677.0" stroke-width="0.8"/><line x1="1826.2" y1="706.6" x2="1841.5" y2="680.1" stroke-width="0.8"/><line x1="1826.2" y1="706.6" x2="1847.8" y2="685.0" stroke-width="0.8"/><line x1="1826.2" y1="706.6" x2="1852.7" y2="691.3" stroke-width="0.8"/><line x1="1826.2" y1="706.6" x2="1855.8" y2="698.7" stroke-width="0.8"/><line x1="1795.6000000000001" y1="706.6" x2="1826.2" y2="706.6" stroke-width="3"/></g>
<g stroke="#333" fill="none"><circle cx="2334.4" cy="833.6" r="31.9" stroke-width="2.4"/><circle cx="2334.4" cy="833.6" r="23.9" stroke-width="0.9"/><circle cx="2334.4" cy="833.6" r="15.9" stroke-width="0.7"/><line x1="2334.4" y1="833.6" x2="2366.3" y2="833.6" stroke-width="0.8"/><line x1="2334.4" y1="833.6" x2="2365.2" y2="841.9" stroke-width="0.8"/><line x1="2334.4" y1="833.6" x2="2362.0" y2="849.6" stroke-width="0.8"/><line x1="2334.4" y1="833.6" x2="2357.0" y2="856.2" stroke-width="0.8"/><line x1="2334.4" y1="833.6" x2="2350.3" y2="861.2" stroke-width="0.8"/><line x1="2334.4" y1="833.6" x2="2342.7" y2="864.4" stroke-width="0.8"/><line x1="2334.4" y1="833.6" x2="2334.4" y2="865.5" stroke-width="0.8"/><line x1="2334.4" y1="833.6" x2="2326.1" y2="864.4" stroke-width="0.8"/><line x1="2334.4" y1="833.6" x2="2318.5" y2="861.2" stroke-width="0.8"/><line x1="2334.4" y1="833.6" x2="2311.8" y2="856.2" stroke-width="0.8"/><line x1="2334.4" y1="833.6" x2="2306.8" y2="849.6" stroke-width="0.8"/><line x1="2334.4" y1="833.6" x2="2303.6" y2="841.9" stroke-width="0.8"/><line x1="2334.4" y1="833.6" x2="2302.5" y2="833.6" stroke-width="0.8"/><line x1="2334.4" y1="833.6" x2="2303.6" y2="825.3" stroke-width="0.8"/><line x1="2334.4" y1="833.6" x2="2306.8" y2="817.6" stroke-width="0.8"/><line x1="2334.4" y1="833.6" x2="2311.8" y2="811.0" stroke-width="0.8"/><line x1="2334.4" y1="833.6" x2="2318.5" y2="806.0" stroke-width="0.8"/><line x1="2334.4" y1="833.6" x2="2326.1" y2="802.8" stroke-width="0.8"/><line x1="2334.4" y1="833.6" x2="2334.4" y2="801.7" stroke-width="0.8"/><line x1="2334.4" y1="833.6" x2="2342.7" y2="802.8" stroke-width="0.8"/><line x1="2334.4" y1="833.6" x2="2350.3" y2="806.0" stroke-width="0.8"/><line x1="2334.4" y1="833.6" x2="2357.0" y2="811.0" stroke-width="0.8"/><line x1="2334.4" y1="833.6" x2="2362.0" y2="817.6" stroke-width="0.8"/><line x1="2334.4" y1="833.6" x2="2365.2" y2="825.3" stroke-width="0.8"/><line x1="2302.5" y1="833.6" x2="2334.4" y2="833.6" stroke-width="3"/></g>
<g stroke="#777" fill="none"><circle cx="2880.7" cy="950.9" r="32.1" stroke-width="2.4"/><circle cx="2880.7" cy="950.9" r="24.1" stroke-width="0.9"/><circle cx="2880.7" cy="950.9" r="16.1" stroke-width="0.7"/><line x1="2880.7" y1="950.9" x2="2912.8" y2="950.9" stroke-width="0.8"/><line x1="2880.7" y1="950.9" x2="2911.7" y2="959.2" stroke-width="0.8"/><line x1="2880.7" y1="950.9" x2="2908.5" y2="966.9" stroke-width="0.8"/><line x1="2880.7" y1="950.9" x2="2903.4" y2="973.6" stroke-width="0.8"/><line x1="2880.7" y1="950.9" x2="2896.8" y2="978.7" stroke-width="0.8"/><line x1="2880.7" y1="950.9" x2="2889.0" y2="981.9" stroke-width="0.8"/><line x1="2880.7" y1="950.9" x2="2880.7" y2="983.0" stroke-width="0.8"/><line x1="2880.7" y1="950.9" x2="2872.4" y2="981.9" stroke-width="0.8"/><line x1="2880.7" y1="950.9" x2="2864.6" y2="978.7" stroke-width="0.8"/><line x1="2880.7" y1="950.9" x2="2858.0" y2="973.6" stroke-width="0.8"/><line x1="2880.7" y1="950.9" x2="2852.9" y2="966.9" stroke-width="0.8"/><line x1="2880.7" y1="950.9" x2="2849.7" y2="959.2" stroke-width="0.8"/><line x1="2880.7" y1="950.9" x2="2848.6" y2="950.9" stroke-width="0.8"/><line x1="2880.7" y1="950.9" x2="2849.7" y2="942.6" stroke-width="0.8"/><line x1="2880.7" y1="950.9" x2="2852.9" y2="934.9" stroke-width="0.8"/><line x1="2880.7" y1="950.9" x2="2858.0" y2="928.2" stroke-width="0.8"/><line x1="2880.7" y1="950.9" x2="2864.6" y2="923.1" stroke-width="0.8"/><line x1="2880.7" y1="950.9" x2="2872.4" y2="919.9" stroke-width="0.8"/><line x1="2880.7" y1="950.9" x2="2880.7" y2="918.8" stroke-width="0.8"/><line x1="2880.7" y1="950.9" x2="2889.0" y2="919.9" stroke-width="0.8"/><line x1="2880.7" y1="950.9" x2="2896.8" y2="923.1" stroke-width="0.8"/><line x1="2880.7" y1="950.9" x2="2903.4" y2="928.2" stroke-width="0.8"/><line x1="2880.7" y1="950.9" x2="2908.5" y2="934.8" stroke-width="0.8"/><line x1="2880.7" y1="950.9" x2="2911.7" y2="942.6" stroke-width="0.8"/><line x1="2848.6" y1="950.9" x2="2880.7" y2="950.9" stroke-width="3"/></g>
<g transform="translate(1365,721.3)"><line x1="-11.5" y1="0" x2="11.5" y2="0" stroke="#222" stroke-width="1.5"/><line x1="0" y1="-14" x2="0" y2="11.5" stroke="#222" stroke-width="1.5"/><circle r="5.5" fill="none" stroke="#000" stroke-width="1.3"/><path d="M0 0 L5.5 0 A5.5 5.5 0 0 0 0 -5.5 Z" fill="#000"/><path d="M0 0 L-5.5 0 A5.5 5.5 0 0 0 0 5.5 Z" fill="#000"/></g>
<text x="1382" y="726.3" font-size="13.2" font-weight="bold" font-style="normal" text-anchor="start" fill="#000" letter-spacing="0.6">+15.900</text>
<g transform="translate(1702.5,603.7)"><line x1="-11.5" y1="0" x2="11.5" y2="0" stroke="#222" stroke-width="1.5"/><line x1="0" y1="-14" x2="0" y2="11.5" stroke="#222" stroke-width="1.5"/><circle r="5.5" fill="none" stroke="#000" stroke-width="1.3"/><path d="M0 0 L5.5 0 A5.5 5.5 0 0 0 0 -5.5 Z" fill="#000"/><path d="M0 0 L-5.5 0 A5.5 5.5 0 0 0 0 5.5 Z" fill="#000"/></g>
<text x="1719.5" y="608.7" font-size="13.2" font-weight="bold" font-style="normal" text-anchor="start" fill="#000" letter-spacing="0.6">+15.900</text>
<g transform="translate(2338,426.5)"><line x1="-11.5" y1="0" x2="11.5" y2="0" stroke="#222" stroke-width="1.5"/><line x1="0" y1="-14" x2="0" y2="11.5" stroke="#222" stroke-width="1.5"/><circle r="5.5" fill="none" stroke="#000" stroke-width="1.3"/><path d="M0 0 L5.5 0 A5.5 5.5 0 0 0 0 -5.5 Z" fill="#000"/><path d="M0 0 L-5.5 0 A5.5 5.5 0 0 0 0 5.5 Z" fill="#000"/></g>
<text x="2355" y="431.5" font-size="13.2" font-weight="bold" font-style="normal" text-anchor="start" fill="#000" letter-spacing="0.6">+15.900</text>
<g transform="translate(2530.4,710.5)"><line x1="-11.5" y1="0" x2="11.5" y2="0" stroke="#222" stroke-width="1.5"/><line x1="0" y1="-14" x2="0" y2="11.5" stroke="#222" stroke-width="1.5"/><circle r="5.5" fill="none" stroke="#000" stroke-width="1.3"/><path d="M0 0 L5.5 0 A5.5 5.5 0 0 0 0 -5.5 Z" fill="#000"/><path d="M0 0 L-5.5 0 A5.5 5.5 0 0 0 0 5.5 Z" fill="#000"/></g>
<text x="2547.4" y="715.5" font-size="13.2" font-weight="bold" font-style="normal" text-anchor="start" fill="#000" letter-spacing="0.6">+15.900</text>
<g transform="translate(1645.5,840.2)"><line x1="-11.5" y1="0" x2="11.5" y2="0" stroke="#222" stroke-width="1.5"/><line x1="0" y1="-14" x2="0" y2="11.5" stroke="#222" stroke-width="1.5"/><circle r="5.5" fill="none" stroke="#000" stroke-width="1.3"/><path d="M0 0 L5.5 0 A5.5 5.5 0 0 0 0 -5.5 Z" fill="#000"/><path d="M0 0 L-5.5 0 A5.5 5.5 0 0 0 0 5.5 Z" fill="#000"/></g>
<text x="1662.5" y="845.2" font-size="13.2" font-weight="bold" font-style="normal" text-anchor="start" fill="#000" letter-spacing="0.6">+13.200</text>
<g transform="translate(2220.5,787)"><line x1="-11.5" y1="0" x2="11.5" y2="0" stroke="#222" stroke-width="1.5"/><line x1="0" y1="-14" x2="0" y2="11.5" stroke="#222" stroke-width="1.5"/><circle r="5.5" fill="none" stroke="#000" stroke-width="1.3"/><path d="M0 0 L5.5 0 A5.5 5.5 0 0 0 0 -5.5 Z" fill="#000"/><path d="M0 0 L-5.5 0 A5.5 5.5 0 0 0 0 5.5 Z" fill="#000"/></g>
<text x="2237.5" y="792" font-size="13.2" font-weight="bold" font-style="normal" text-anchor="start" fill="#000" letter-spacing="0.6">+13.200</text>
<g transform="translate(2695,898)"><line x1="-11.5" y1="0" x2="11.5" y2="0" stroke="#222" stroke-width="1.5"/><line x1="0" y1="-14" x2="0" y2="11.5" stroke="#222" stroke-width="1.5"/><circle r="5.5" fill="none" stroke="#000" stroke-width="1.3"/><path d="M0 0 L5.5 0 A5.5 5.5 0 0 0 0 -5.5 Z" fill="#000"/><path d="M0 0 L-5.5 0 A5.5 5.5 0 0 0 0 5.5 Z" fill="#000"/></g>
<text x="2712" y="903" font-size="13.2" font-weight="bold" font-style="normal" text-anchor="start" fill="#000" letter-spacing="0.6">+13.200</text>
<g transform="translate(1126.4,1279.1)"><line x1="-11.5" y1="0" x2="11.5" y2="0" stroke="#222" stroke-width="1.5"/><line x1="0" y1="-14" x2="0" y2="11.5" stroke="#222" stroke-width="1.5"/><circle r="5.5" fill="none" stroke="#000" stroke-width="1.3"/><path d="M0 0 L5.5 0 A5.5 5.5 0 0 0 0 -5.5 Z" fill="#000"/><path d="M0 0 L-5.5 0 A5.5 5.5 0 0 0 0 5.5 Z" fill="#000"/></g>
<text x="1143.4" y="1284.1" font-size="13.2" font-weight="bold" font-style="normal" text-anchor="start" fill="#000" letter-spacing="0.6">+9.800</text>
<g transform="translate(1523,1315.4)"><line x1="-11.5" y1="0" x2="11.5" y2="0" stroke="#222" stroke-width="1.5"/><line x1="0" y1="-14" x2="0" y2="11.5" stroke="#222" stroke-width="1.5"/><circle r="5.5" fill="none" stroke="#000" stroke-width="1.3"/><path d="M0 0 L5.5 0 A5.5 5.5 0 0 0 0 -5.5 Z" fill="#000"/><path d="M0 0 L-5.5 0 A5.5 5.5 0 0 0 0 5.5 Z" fill="#000"/></g>
<text x="1540" y="1320.4" font-size="13.2" font-weight="bold" font-style="normal" text-anchor="start" fill="#000" letter-spacing="0.6">+9.800</text>
<g transform="translate(1169.8,1481.7)"><line x1="-11.5" y1="0" x2="11.5" y2="0" stroke="#222" stroke-width="1.5"/><line x1="0" y1="-14" x2="0" y2="11.5" stroke="#222" stroke-width="1.5"/><circle r="5.5" fill="none" stroke="#000" stroke-width="1.3"/><path d="M0 0 L5.5 0 A5.5 5.5 0 0 0 0 -5.5 Z" fill="#000"/><path d="M0 0 L-5.5 0 A5.5 5.5 0 0 0 0 5.5 Z" fill="#000"/></g>
<text x="1186.8" y="1486.7" font-size="13.2" font-weight="bold" font-style="normal" text-anchor="start" fill="#000" letter-spacing="0.6">+12.500</text>
<g transform="translate(2762.9,1024.5)"><line x1="-11.5" y1="0" x2="11.5" y2="0" stroke="#222" stroke-width="1.5"/><line x1="0" y1="-14" x2="0" y2="11.5" stroke="#222" stroke-width="1.5"/><circle r="5.5" fill="none" stroke="#000" stroke-width="1.3"/><path d="M0 0 L5.5 0 A5.5 5.5 0 0 0 0 -5.5 Z" fill="#000"/><path d="M0 0 L-5.5 0 A5.5 5.5 0 0 0 0 5.5 Z" fill="#000"/></g>
<text x="2779.9" y="1029.5" font-size="13.2" font-weight="bold" font-style="normal" text-anchor="start" fill="#000" letter-spacing="0.6">+9.800</text>
<g transform="translate(2633,1134.3)"><line x1="-11.5" y1="0" x2="11.5" y2="0" stroke="#222" stroke-width="1.5"/><line x1="0" y1="-14" x2="0" y2="11.5" stroke="#222" stroke-width="1.5"/><circle r="5.5" fill="none" stroke="#000" stroke-width="1.3"/><path d="M0 0 L5.5 0 A5.5 5.5 0 0 0 0 -5.5 Z" fill="#000"/><path d="M0 0 L-5.5 0 A5.5 5.5 0 0 0 0 5.5 Z" fill="#000"/></g>
<text x="2650" y="1139.3" font-size="13.2" font-weight="bold" font-style="normal" text-anchor="start" fill="#000" letter-spacing="0.6">+12.500</text>
<g transform="translate(2863.3,1186.6)"><line x1="-11.5" y1="0" x2="11.5" y2="0" stroke="#222" stroke-width="1.5"/><line x1="0" y1="-14" x2="0" y2="11.5" stroke="#222" stroke-width="1.5"/><circle r="5.5" fill="none" stroke="#000" stroke-width="1.3"/><path d="M0 0 L5.5 0 A5.5 5.5 0 0 0 0 -5.5 Z" fill="#000"/><path d="M0 0 L-5.5 0 A5.5 5.5 0 0 0 0 5.5 Z" fill="#000"/></g>
<text x="2880.3" y="1191.6" font-size="13.2" font-weight="bold" font-style="normal" text-anchor="start" fill="#000" letter-spacing="0.6">+9.800</text>
<g transform="translate(2496.4,1279)"><line x1="-11.5" y1="0" x2="11.5" y2="0" stroke="#222" stroke-width="1.5"/><line x1="0" y1="-14" x2="0" y2="11.5" stroke="#222" stroke-width="1.5"/><circle r="5.5" fill="none" stroke="#000" stroke-width="1.3"/><path d="M0 0 L5.5 0 A5.5 5.5 0 0 0 0 -5.5 Z" fill="#000"/><path d="M0 0 L-5.5 0 A5.5 5.5 0 0 0 0 5.5 Z" fill="#000"/></g>
<text x="2513.4" y="1284" font-size="13.2" font-weight="bold" font-style="normal" text-anchor="start" fill="#000" letter-spacing="0.6">+9.800</text>
<g transform="translate(2813.8,1302.5)"><line x1="-11.5" y1="0" x2="11.5" y2="0" stroke="#222" stroke-width="1.5"/><line x1="0" y1="-14" x2="0" y2="11.5" stroke="#222" stroke-width="1.5"/><circle r="5.5" fill="none" stroke="#000" stroke-width="1.3"/><path d="M0 0 L5.5 0 A5.5 5.5 0 0 0 0 -5.5 Z" fill="#000"/><path d="M0 0 L-5.5 0 A5.5 5.5 0 0 0 0 5.5 Z" fill="#000"/></g>
<text x="2830.8" y="1307.5" font-size="13.2" font-weight="bold" font-style="normal" text-anchor="start" fill="#000" letter-spacing="0.6">+12.500</text>
<g transform="translate(2680,1586.6)"><line x1="-11.5" y1="0" x2="11.5" y2="0" stroke="#222" stroke-width="1.5"/><line x1="0" y1="-14" x2="0" y2="11.5" stroke="#222" stroke-width="1.5"/><circle r="5.5" fill="none" stroke="#000" stroke-width="1.3"/><path d="M0 0 L5.5 0 A5.5 5.5 0 0 0 0 -5.5 Z" fill="#000"/><path d="M0 0 L-5.5 0 A5.5 5.5 0 0 0 0 5.5 Z" fill="#000"/></g>
<text x="2697" y="1591.6" font-size="13.2" font-weight="bold" font-style="normal" text-anchor="start" fill="#000" letter-spacing="0.6">+12.500</text>
<g transform="translate(2555.3,1669.6)"><line x1="-11.5" y1="0" x2="11.5" y2="0" stroke="#222" stroke-width="1.5"/><line x1="0" y1="-14" x2="0" y2="11.5" stroke="#222" stroke-width="1.5"/><circle r="5.5" fill="none" stroke="#000" stroke-width="1.3"/><path d="M0 0 L5.5 0 A5.5 5.5 0 0 0 0 -5.5 Z" fill="#000"/><path d="M0 0 L-5.5 0 A5.5 5.5 0 0 0 0 5.5 Z" fill="#000"/></g>
<text x="2572.3" y="1674.6" font-size="13.2" font-weight="bold" font-style="normal" text-anchor="start" fill="#000" letter-spacing="0.6">+9.800</text>
<g transform="translate(2863.3,1703)"><line x1="-11.5" y1="0" x2="11.5" y2="0" stroke="#222" stroke-width="1.5"/><line x1="0" y1="-14" x2="0" y2="11.5" stroke="#222" stroke-width="1.5"/><circle r="5.5" fill="none" stroke="#000" stroke-width="1.3"/><path d="M0 0 L5.5 0 A5.5 5.5 0 0 0 0 -5.5 Z" fill="#000"/><path d="M0 0 L-5.5 0 A5.5 5.5 0 0 0 0 5.5 Z" fill="#000"/></g>
<text x="2880.3" y="1708" font-size="13.2" font-weight="bold" font-style="normal" text-anchor="start" fill="#000" letter-spacing="0.6">+9.800</text>
<path d="M1262 701.7H1513" stroke="#000" stroke-width="1.3" fill="none"/>
<path d="M1264.5 704.2L1269.5 699.2" stroke="#000" stroke-width="1.6"/>
<path d="M1423.5 704.2L1428.5 699.2" stroke="#000" stroke-width="1.6"/>
<path d="M1505.5 704.2L1510.5 699.2" stroke="#000" stroke-width="1.6"/>
<text x="1234" y="700" font-size="11" font-weight="normal" font-style="normal" text-anchor="start" fill="#000" >0.15</text>
<text x="1387" y="698" font-size="11" font-weight="normal" font-style="normal" text-anchor="start" fill="#000" >6.50</text>
<text x="1478" y="698" font-size="11" font-weight="normal" font-style="normal" text-anchor="start" fill="#000" >0.15</text>
<path d="M1426 612V792" stroke="#000" stroke-width="1.3" fill="none"/>
<path d="M1423.5 619.5L1428.5 614.5" stroke="#000" stroke-width="1.6"/>
<path d="M1423.5 638.5L1428.5 633.5" stroke="#000" stroke-width="1.6"/>
<path d="M1423.5 787.5L1428.5 782.5" stroke="#000" stroke-width="1.6"/>
<text font-size="10" transform="translate(1434,632) rotate(-90)">0.15</text>
<text font-size="10" transform="translate(1434,770) rotate(-90)">2.90</text>
<path d="M1662 554.7H1868" stroke="#000" stroke-width="1.3" fill="none"/>
<path d="M1664.5 557.2L1669.5 552.2" stroke="#000" stroke-width="1.6"/>
<path d="M1831.1 557.2L1836.1 552.2" stroke="#000" stroke-width="1.6"/>
<path d="M1860.5 557.2L1865.5 552.2" stroke="#000" stroke-width="1.6"/>
<text x="1634" y="558" font-size="11" font-weight="normal" font-style="normal" text-anchor="start" fill="#000" >0.15</text>
<text x="1736" y="558" font-size="11" font-weight="normal" font-style="normal" text-anchor="start" fill="#000" >5.90</text>
<text x="1820" y="558" font-size="11" font-weight="normal" font-style="normal" text-anchor="start" fill="#000" >0.15</text>
<path d="M1833.6 521.7V634.4" stroke="#000" stroke-width="1.3" fill="none"/>
<path d="M1831.1 529.5L1836.1 524.5" stroke="#000" stroke-width="1.6"/>
<path d="M1831.1 600.5L1836.1 595.5" stroke="#000" stroke-width="1.6"/>
<path d="M1831.1 632.5L1836.1 627.5" stroke="#000" stroke-width="1.6"/>
<text font-size="11" transform="translate(1833,660) rotate(-90)">0.15</text>
<text font-size="10" transform="translate(1833,617) rotate(-90)">2.90</text>
<path d="M2231 482.3H2536" stroke="#000" stroke-width="1.3" fill="none"/>
<path d="M2234.5 484.8L2239.5 479.8" stroke="#000" stroke-width="1.6"/>
<path d="M2527.5 484.8L2532.5 479.8" stroke="#000" stroke-width="1.6"/>
<text x="2370" y="478" font-size="11" font-weight="normal" font-style="normal" text-anchor="start" fill="#000" >8.50</text>
<path d="M2305 369.6V715" stroke="#000" stroke-width="1.3" fill="none"/>
<path d="M2302.5 379.5L2307.5 374.5" stroke="#000" stroke-width="1.6"/>
<path d="M2302.5 711.5L2307.5 706.5" stroke="#000" stroke-width="1.6"/>
<text font-size="11" transform="translate(2302,558) rotate(-90)">9.50</text>
<path d="M2479 652.6H2675" stroke="#000" stroke-width="1.3" fill="none"/>
<path d="M2480.5 655.1L2485.5 650.1" stroke="#000" stroke-width="1.6"/>
<path d="M2504.0 655.1L2509.0 650.1" stroke="#000" stroke-width="1.6"/>
<path d="M2668.5 655.1L2673.5 650.1" stroke="#000" stroke-width="1.6"/>
<text x="2449" y="650" font-size="11" font-weight="normal" font-style="normal" text-anchor="start" fill="#000" >0.15</text>
<text x="2560" y="650" font-size="11" font-weight="normal" font-style="normal" text-anchor="start" fill="#000" >5.90</text>
<text x="2643" y="650" font-size="11" font-weight="normal" font-style="normal" text-anchor="start" fill="#000" >0.15</text>
<path d="M2506.5 619V729" stroke="#000" stroke-width="1.3" fill="none"/>
<path d="M2504.0 627.5L2509.0 622.5" stroke="#000" stroke-width="1.6"/>
<path d="M2504.0 725.5L2509.0 720.5" stroke="#000" stroke-width="1.6"/>
<text font-size="11" transform="translate(2505,757) rotate(-90)">0.15</text>
<text font-size="9" transform="translate(2505,700) rotate(-90)">2.90</text>
<text x="1859" y="485" font-size="8.5" font-weight="normal" font-style="normal" text-anchor="end" fill="#000" >ΦΩΤΟΒΟΛΤΑΙΚΑ</text>
<text x="1859" y="496" font-size="8.5" font-weight="normal" font-style="normal" text-anchor="end" fill="#000" >ΠΑΝΕΛΑ</text>
<path d="M1740.5 569.4 V496 H1864" stroke="#000" stroke-width="1.6" fill="none" />
<circle cx="1740.5" cy="569.4" r="3.2" fill="#000"/>
<text x="1359" y="1308" font-size="8.5" font-weight="normal" font-style="normal" text-anchor="end" fill="#000" >ΦΩΤΟΒΟΛΤΑΙΚΑ</text>
<text x="1359" y="1319" font-size="8.5" font-weight="normal" font-style="normal" text-anchor="end" fill="#000" >ΠΑΝΕΛΑ</text>
<path d="M1241.3 1378 V1321.4 H1364.6" stroke="#000" stroke-width="1.6" fill="none" />
<circle cx="1241.3" cy="1378" r="3.2" fill="#000"/>
<text x="3040" y="1451" font-size="8.5" font-weight="normal" font-style="normal" text-anchor="end" fill="#000" >ΦΩΤΟΒΟΛΤΑΙΚΑ</text>
<text x="3040" y="1462" font-size="8.5" font-weight="normal" font-style="normal" text-anchor="end" fill="#000" >ΠΑΝΕΛΑ</text>
<path d="M2854 1463.4 H3046" stroke="#000" stroke-width="1.6" fill="none" />
<circle cx="2854" cy="1463.4" r="3.2" fill="#000"/>
<line x1="822" y1="0" x2="822" y2="2240" stroke="#000" stroke-width="3" fill="none" stroke-dasharray="21 5.5 7 5.5"/>
<line x1="1577" y1="0" x2="1577" y2="1088" stroke="#000" stroke-width="3" fill="none" stroke-dasharray="21 5.5 7 5.5"/>
<line x1="1577" y1="1050" x2="1822" y2="2233" stroke="#000" stroke-width="3" fill="none" stroke-dasharray="21 5.5 7 5.5"/>
<line x1="2782" y1="62" x2="2782" y2="2130" stroke="#000" stroke-width="3" fill="none" stroke-dasharray="21 5.5 7 5.5"/>
<line x1="3016.5" y1="62" x2="3016.5" y2="2242" stroke="#000" stroke-width="3" fill="none" stroke-dasharray="21 5.5 7 5.5"/>
<line x1="279" y1="195.5" x2="3275" y2="195.5" stroke="#000" stroke-width="3" fill="none" stroke-dasharray="21 5.5 7 5.5"/>
<line x1="1090" y1="585" x2="3160" y2="585" stroke="#000" stroke-width="3" fill="none" stroke-dasharray="21 5.5 7 5.5"/>
<line x1="301" y1="1984" x2="3300" y2="1984" stroke="#000" stroke-width="3" fill="none" stroke-dasharray="21 5.5 7 5.5"/></svg></body></html>
